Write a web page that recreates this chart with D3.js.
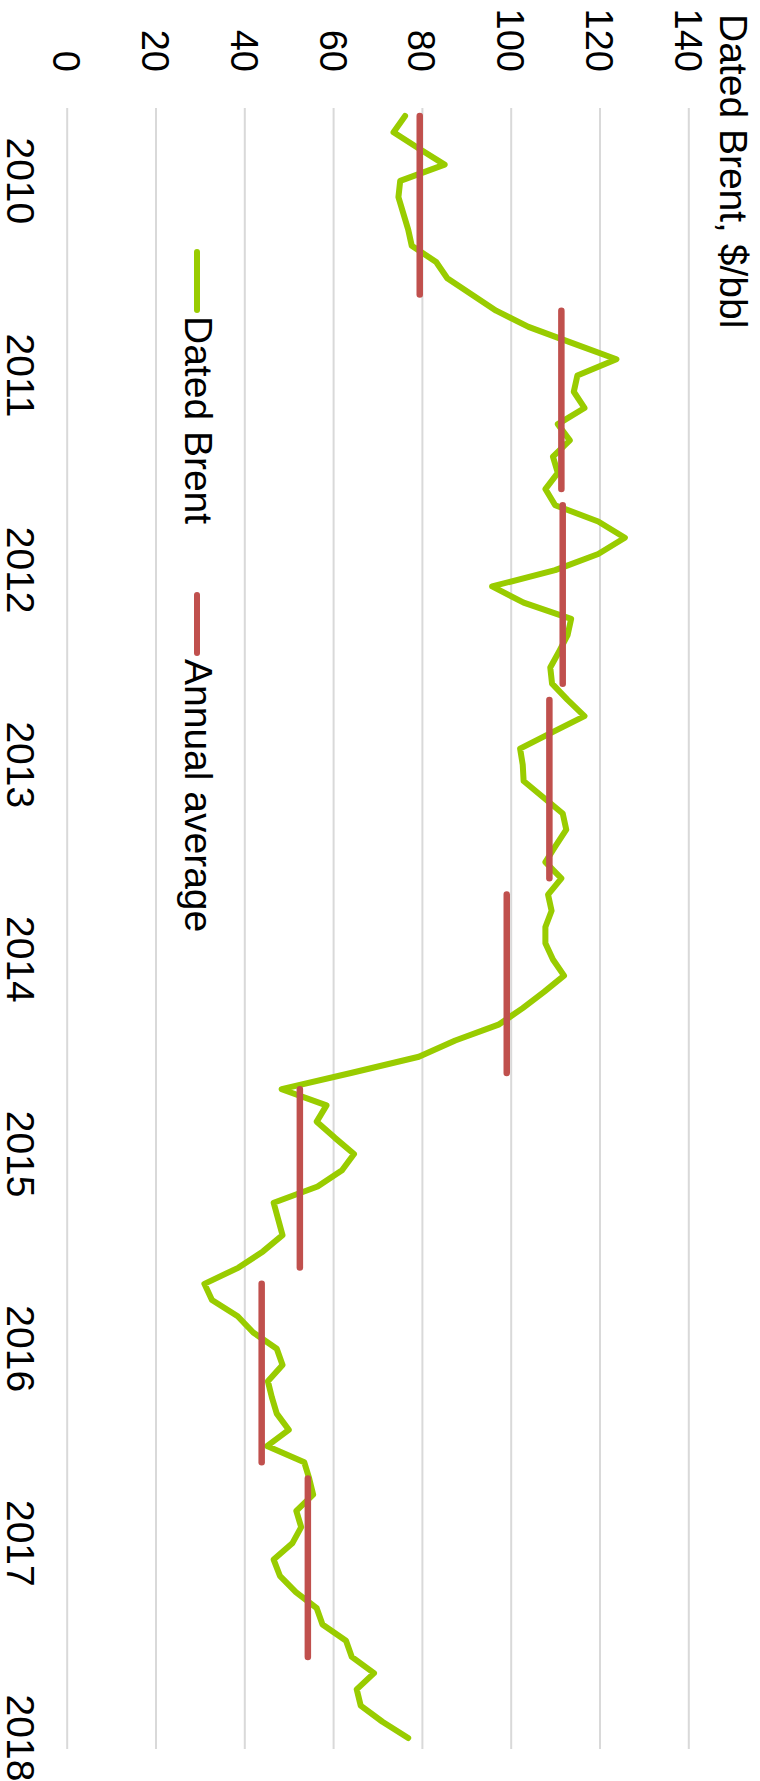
<!DOCTYPE html>
<html>
<head>
<meta charset="utf-8">
<script src="https://cdn.jsdelivr.net/npm/d3@7"></script>
<style>
body { margin: 0; background: #fff; }
text { font-family: "Liberation Sans", Arial, sans-serif; fill: #000; }
</style>
</head>
<body>
<div class="brent-chart"></div>
<script>
var years = ["2010", "2011", "2012", "2013", "2014", "2015", "2016", "2017", "2018"];
var brent2010 = [76.1, 73.5, 79.2, 85.0, 75.0, 74.6, 75.7, 76.8, 77.6, 83.1, 85.6, 91.1];
var brent2011 = [96.6, 103.9, 113.8, 123.7, 114.9, 114.1, 116.5, 110.5, 113.2, 109.4, 110.5, 107.7];
var brent2012 = [109.9, 119.6, 125.6, 119.6, 109.9, 95.7, 102.8, 113.5, 112.7, 110.8, 108.8, 109.2];
var brent2013 = [112.7, 116.5, 109.2, 102.0, 102.6, 102.8, 107.2, 111.6, 112.4, 110.0, 107.7, 111.3];
var brent2014 = [108.3, 109.1, 107.7, 107.7, 109.4, 111.9, 107.4, 102.6, 97.3, 87.4, 79.2, 63.9];
var brent2015 = [48.3, 58.4, 56.2, 60.3, 64.6, 61.9, 56.4, 46.5, 47.5, 48.5, 44.1, 38.6];
var brent2016 = [30.9, 32.6, 38.4, 41.9, 47.2, 48.5, 45.2, 46.1, 47.2, 49.9, 45.0, 53.4];
var brent2017 = [54.5, 55.4, 51.6, 52.7, 50.7, 46.5, 47.9, 51.5, 56.2, 57.5, 62.8, 64.1];
var brent2018 = [69.1, 65.2, 66.1, 71.0, 76.8];
var annualAverage = [79.4, 111.3, 111.6, 108.6, 99.0, 52.4, 43.8, 54.2];
var valueTicks = [0, 20, 40, 60, 80, 100, 120, 140];

var series = [brent2010, brent2011, brent2012, brent2013, brent2014, brent2015, brent2016, brent2017, brent2018];
var monthly = [];
series.forEach(function(vals, i) {
  vals.forEach(function(v, m) {
    monthly.push({year: years[i], month: m, value: v});
  });
});

// chart is drawn landscape, then turned a quarter clockwise
var chartWidth = 1781;
var chartHeight = 760;
var green = "#99cc00";
var red = "#c0504d";

var svg = d3.select(".brent-chart")
            .append("svg")
            .attr("width", chartHeight)
            .attr("height", chartWidth);

var g = svg.append("g")
           .attr("transform", "translate(" + chartHeight + ",0) rotate(90)");

var x = d3.scaleLinear()
          .domain([0, monthly.length - 1])
          .range([116, 1738]);

var y = d3.scaleLinear()
          .domain([0, 140])
          .range([692.8, 71.2]);

g.selectAll("line.grid")
  .data(valueTicks)
  .enter()
  .append("line")
  .attr("class", "grid")
  .attr("x1", 108)
  .attr("x2", 1749)
  .attr("y1", function(d) { return y(d); })
  .attr("y2", function(d) { return y(d); })
  .attr("stroke", "#d9d9d9")
  .attr("stroke-width", 2);

g.selectAll("text.value-tick")
  .data(valueTicks)
  .enter()
  .append("text")
  .attr("class", "value-tick")
  .attr("x", 72)
  .attr("y", function(d) { return y(d); })
  .attr("dy", "0.37em")
  .attr("text-anchor", "end")
  .attr("font-size", 38)
  .text(function(d) { return d; });

g.selectAll("text.year-tick")
  .data(years)
  .enter()
  .append("text")
  .attr("class", "year-tick")
  .attr("x", function(d, i) { return x(i * 12 + 4); })
  .attr("y", 753)
  .attr("text-anchor", "middle")
  .attr("font-size", 39)
  .text(function(d) { return d; });

g.append("text")
  .attr("x", 14)
  .attr("y", 40)
  .attr("font-size", 39)
  .text("Dated Brent, $/bbl");

var line = d3.line()
             .x(function(d, i) { return x(i); })
             .y(function(d) { return y(d.value); });

g.append("path")
  .datum(monthly)
  .attr("d", line)
  .attr("fill", "none")
  .attr("stroke", green)
  .attr("stroke-width", 6)
  .attr("stroke-linejoin", "round")
  .attr("stroke-linecap", "round");

g.selectAll("line.average")
  .data(annualAverage)
  .enter()
  .append("line")
  .attr("class", "average")
  .attr("x1", function(d, i) { return x(i * 12); })
  .attr("x2", function(d, i) { return x(i * 12 + 11); })
  .attr("y1", function(d) { return y(d); })
  .attr("y2", function(d) { return y(d); })
  .attr("stroke", red)
  .attr("stroke-width", 6.5)
  .attr("stroke-linecap", "round");

var legend = [
  {name: "Dated Brent", color: green, x: 252},
  {name: "Annual average", color: red, x: 595}
];

var items = g.selectAll("g.legend")
  .data(legend)
  .enter()
  .append("g")
  .attr("class", "legend")
  .attr("transform", function(d) { return "translate(" + d.x + ",563)"; });

items.append("line")
  .attr("x1", 0)
  .attr("x2", 58)
  .attr("stroke", function(d) { return d.color; })
  .attr("stroke-width", 6)
  .attr("stroke-linecap", "round");

items.append("text")
  .attr("x", 64)
  .attr("y", 12)
  .attr("font-size", 39)
  .text(function(d) { return d.name; });
</script>
</body>
</html>
